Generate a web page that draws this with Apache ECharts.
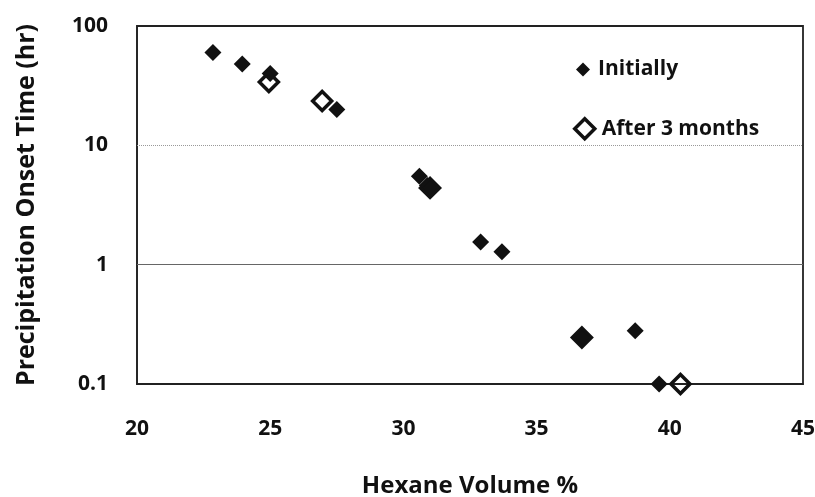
<!DOCTYPE html>
<html>
<head>
<meta charset="utf-8">
<script src="https://cdn.jsdelivr.net/npm/echarts@6/dist/echarts.min.js"></script>
<style>
html,body{margin:0;padding:0;background:#fff;}
#c{width:815px;height:497px;}
</style>
</head>
<body>
<div id="c"></div>
<script>
// Data
var initiallyX = [22.85, 23.95, 25.0, 27.5, 30.6, 30.9, 31.0, 32.9, 33.7, 36.7, 38.7, 39.6];
var initiallyY = [60, 48, 40, 20, 5.5, 4.6, 4.4, 1.55, 1.28, 0.245, 0.28, 0.1];
var after3X = [24.95, 26.95, 31.0, 36.7, 40.4];
var after3Y = [34, 23.5, 4.4, 0.245, 0.1];
var xTicks = [20, 25, 30, 35, 40, 45];
var yTicks = [0.1, 1, 10, 100];
var gridValues = [10, 1];

var FONT = 'Open Sans';
function pairs(xs, ys){ return xs.map(function(x,i){ return [x, ys[i]]; }); }

var chart = echarts.init(document.getElementById('c'), null, {renderer:'canvas'});
chart.setOption({
  backgroundColor:'#ffffff',
  animation:false,
  textStyle:{fontFamily:FONT},
  grid:{left:137, right:12, top:26, bottom:113, show:true, borderColor:'#222', borderWidth:1.8,
        containLabel:false, outerBoundsMode:'none'},
  legend:[
    {
      left:571, top:54, itemWidth:14, itemHeight:14,
      textStyle:{fontFamily:FONT, fontWeight:'bold', fontSize:21, color:'#111', padding:[0,0,0,3]},
      data:[{name:'Initially', icon:'diamond', itemStyle:{color:'#111', borderWidth:0}}]
    },
    {
      left:568, top:112, itemWidth:20, itemHeight:20,
      textStyle:{fontFamily:FONT, fontWeight:'bold', fontSize:21, color:'#111', padding:[0,0,0,2]},
      data:[{name:'After 3 months', icon:'diamond', itemStyle:{color:'#fff', borderColor:'#111', borderWidth:3.5}}]
    }
  ],
  xAxis:{
    type:'value', min:xTicks[0], max:xTicks[xTicks.length-1], interval:5,
    name:'Hexane Volume %', nameLocation:'middle', nameGap:90,
    nameTextStyle:{fontFamily:FONT, fontWeight:'bold', fontSize:24, color:'#111'},
    axisLine:{show:true, lineStyle:{color:'#222', width:1.5}},
    axisTick:{show:false},
    axisLabel:{margin:35, fontFamily:FONT, fontWeight:'bold', fontSize:21, color:'#111'},
    splitLine:{show:false}
  },
  yAxis:{
    type:'log', logBase:10, min:yTicks[0], max:yTicks[yTicks.length-1],
    name:'Precipitation Onset Time (hr)', nameLocation:'middle', nameGap:98,
    nameTextStyle:{fontFamily:FONT, fontWeight:'bold', fontSize:25, color:'#111'},
    axisLine:{show:true, lineStyle:{color:'#222', width:1.5}},
    axisTick:{show:false},
    axisLabel:{margin:29, fontFamily:FONT, fontWeight:'bold', fontSize:21, color:'#111'},
    splitLine:{show:false}
  },
  series:[
    {
      name:'Initially', type:'scatter', symbol:'diamond', symbolSize:17, clip:false,
      itemStyle:{color:'#111', opacity:1},
      data:pairs(initiallyX, initiallyY),
      markLine:{
        silent:true, symbol:'none', label:{show:false},
        data:[
          {yAxis:gridValues[0], lineStyle:{color:'#999', type:'dotted', width:1}},
          {yAxis:gridValues[1], lineStyle:{color:'#666', type:'solid', width:1}}
        ]
      },
      z:3
    },
    {
      name:'After 3 months', type:'scatter', symbol:'diamond', symbolSize:19, clip:false,
      itemStyle:{color:'rgba(255,255,255,0)', borderColor:'#111', borderWidth:3.5, opacity:1},
      data:pairs(after3X, after3Y),
      z:4
    }
  ]
});
</script>
</body>
</html>
